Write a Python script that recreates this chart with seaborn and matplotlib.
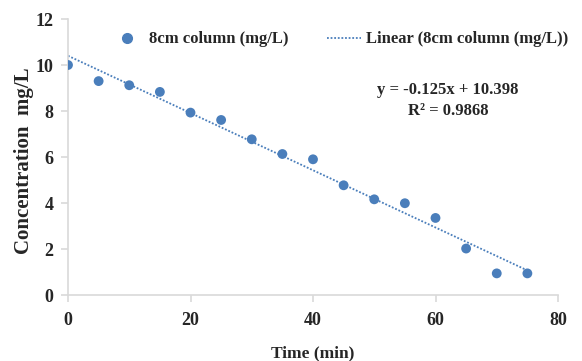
import numpy as np
import pandas as pd
import matplotlib
matplotlib.use("Agg")
import matplotlib.pyplot as plt
import seaborn as sns
from matplotlib.lines import Line2D

time_min = [0, 5, 10, 15, 20, 25, 30, 35, 40, 45, 50, 55, 60, 65, 70, 75]
conc_8cm = [10.0, 9.3, 9.12, 8.83, 7.93, 7.61, 6.77, 6.13, 5.9, 4.77, 4.16, 3.99, 3.35, 2.02, 0.94, 0.94]
x_ticks = [0, 20, 40, 60, 80]
y_ticks = [0, 2, 4, 6, 8, 10, 12]
legend_labels = ["8cm column (mg/L)", "Linear (8cm column (mg/L))"]
equation_text = "y = -0.125x + 10.398\nR² = 0.9868"

sns.set_style("white")
plt.rcParams['font.family'] = ['Liberation Serif', 'DejaVu Serif']
plt.rcParams['font.weight'] = 'bold'

df = pd.DataFrame({"Time (min)": time_min, "conc": conc_8cm})
blue = "#4A7EBB"

fig = plt.figure(figsize=(5.82, 3.61), dpi=100)
ax = fig.add_axes([68/582, 1-295/361, (558-68)/582, (295-19)/361])

sns.regplot(data=df, x="Time (min)", y="conc", ax=ax, ci=None, truncate=True,
            scatter_kws=dict(s=50, color=blue, edgecolor='none', alpha=1, zorder=3),
            line_kws=dict(color=blue, lw=1.3, ls=(0, (1, 1)), zorder=2))

ax.set_xlim(0, 80)
ax.set_ylim(0, 12)
ax.set_xticks(x_ticks)
ax.set_yticks(y_ticks)
ax.tick_params(axis='both', labelsize=13, length=5, color='#d9d9d9', direction='out', width=1.2)
ax.tick_params(axis='x', pad=7)
ax.tick_params(axis='y', pad=5.5)
for lab in ax.get_xticklabels() + ax.get_yticklabels():
    lab.set_fontweight('bold')
for s in ['top', 'right']:
    ax.spines[s].set_visible(False)
for s in ['left', 'bottom']:
    ax.spines[s].set_color('#d9d9d9')
    ax.spines[s].set_linewidth(1.2)
ax.xaxis.set_ticks_position('bottom')
ax.yaxis.set_ticks_position('left')

ax.set_xlabel("Time (min)", fontsize=12.5, fontweight='bold', labelpad=12)
ax.set_ylabel("Concentration  mg/L", fontsize=15, fontweight='bold', va='center')
ax.yaxis.set_label_coords(-44/490, (295-161)/276)

handles = [Line2D([], [], marker='o', ls='none', color=blue, markersize=7),
           Line2D([], [], color=blue, lw=1.3, ls=(0, (1, 1)))]
ax.legend(handles, legend_labels,
          loc='center', bbox_to_anchor=(0.554, 0.926), ncol=2, frameon=False,
          prop=dict(weight='bold', size=12), handlelength=2.0, columnspacing=2.3,
          handletextpad=0.35, borderpad=0)

ax.text(0.775, 0.705, equation_text,
        transform=ax.transAxes, ha='center', va='center', fontsize=12,
        fontweight='bold', linespacing=1.4)

fig.savefig("out.png", dpi=100)
